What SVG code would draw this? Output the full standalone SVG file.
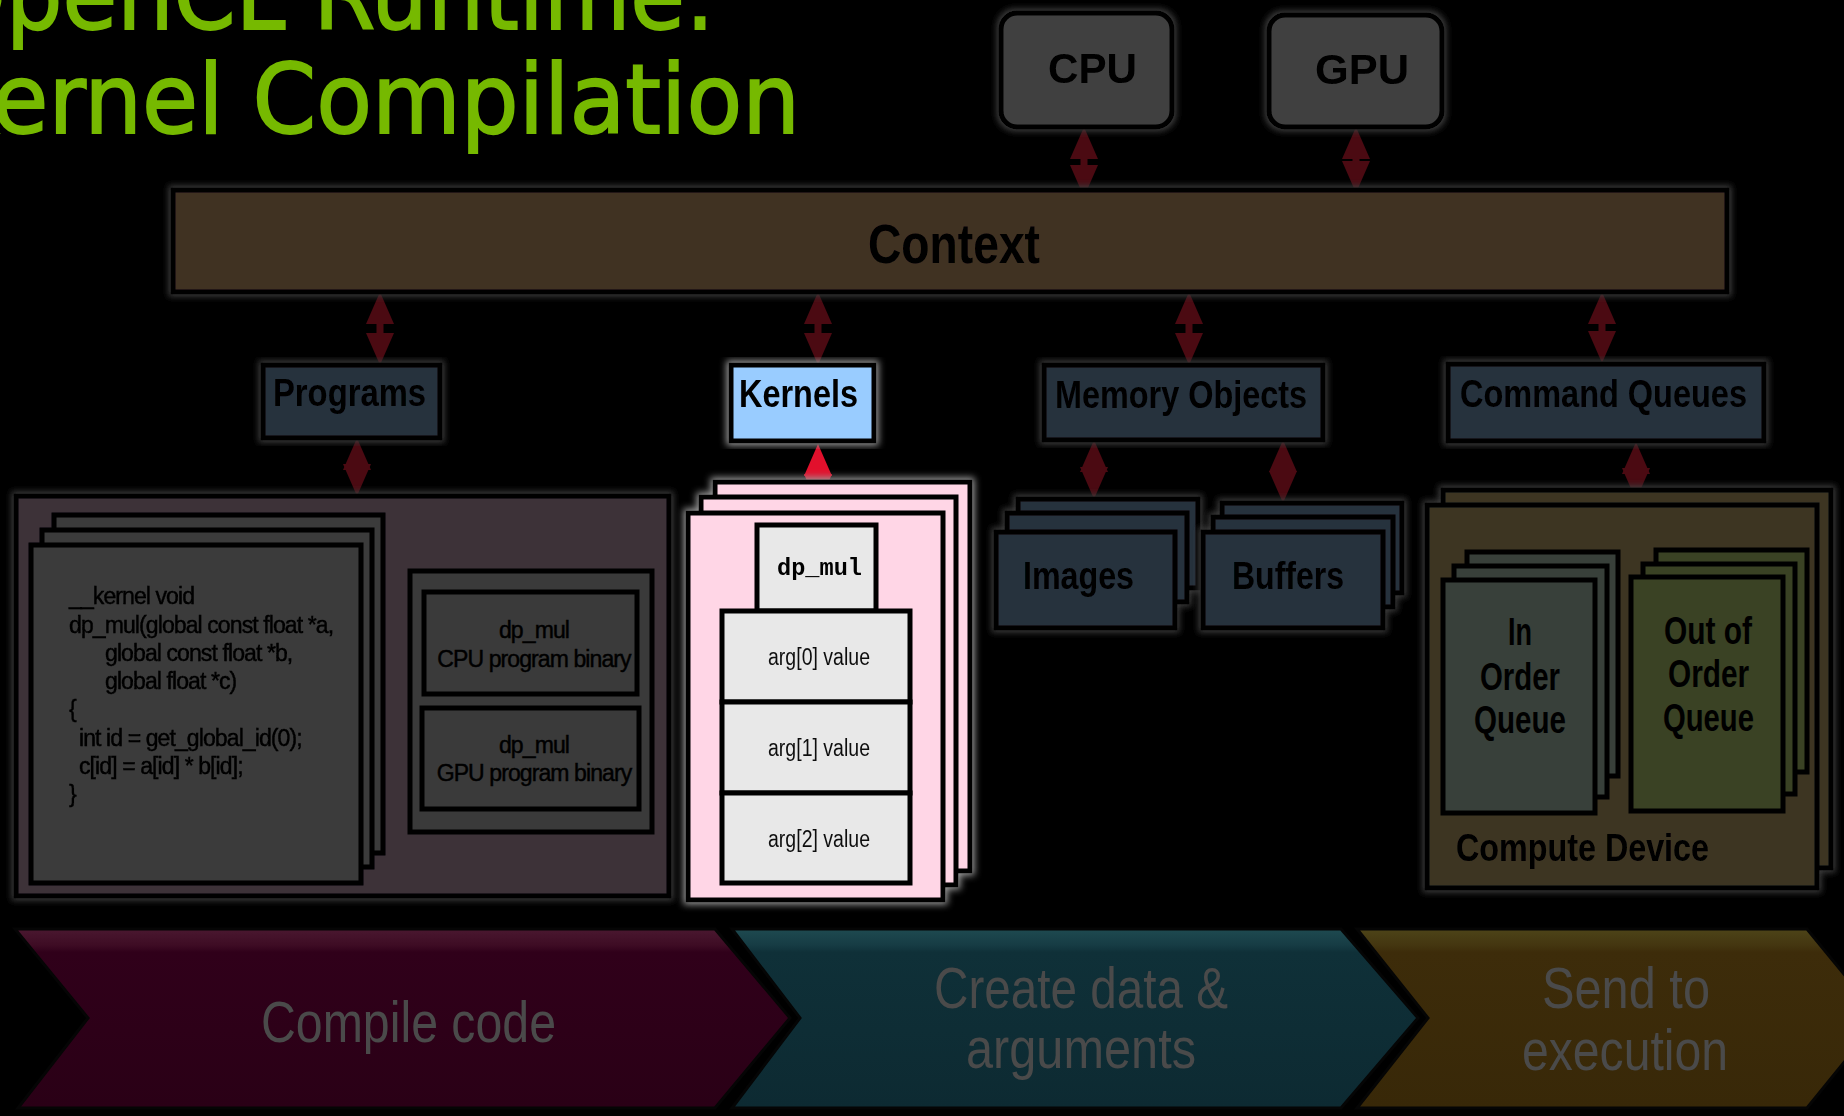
<svg xmlns="http://www.w3.org/2000/svg" width="1844" height="1116" viewBox="0 0 1844 1116">
<defs>
<style>
.box{stroke:#000;stroke-width:5}
.lbl{font-family:"Liberation Sans",Arial,sans-serif;font-weight:bold;fill:#000}
.code{font-family:"Liberation Sans",Arial,sans-serif;font-size:23px;letter-spacing:-0.9px;fill:#000;stroke:#000;stroke-width:0.45}
.arg{font-family:"Liberation Sans",Arial,sans-serif;font-size:23px;fill:#111}
.step{font-family:"Liberation Sans",Arial,sans-serif;font-size:58px;fill:#4a4a4a}
.title{font-family:"DejaVu Sans","Liberation Sans",sans-serif;font-size:96px;fill:#76b900;stroke:#76b900;stroke-width:1.8}
.conn{stroke:#4b0a12;stroke-width:7;fill:none;marker-start:url(#ah);marker-end:url(#ah)}
.connr{stroke:#e2102c;stroke-width:7;fill:none;marker-start:url(#ahr);marker-end:url(#ahr)}
</style>
<marker id="ah" markerUnits="userSpaceOnUse" viewBox="0 0 32 28" markerWidth="32" markerHeight="28" refX="8" refY="14" orient="auto-start-reverse"><path d="M0,0 L32,14 L0,28 z" fill="#4b0a12"/></marker>
<marker id="ahr" markerUnits="userSpaceOnUse" viewBox="0 0 32 28" markerWidth="32" markerHeight="28" refX="8" refY="14" orient="auto-start-reverse"><path d="M0,0 L32,14 L0,28 z" fill="#e2102c"/></marker>
<filter id="glow" x="-10%" y="-10%" width="120%" height="120%">
<feMorphology in="SourceAlpha" operator="dilate" radius="2" result="d"/>
<feGaussianBlur in="d" stdDeviation="3" result="b"/>
<feFlood flood-color="#3c3c3c"/>
<feComposite in2="b" operator="in" result="g"/>
<feMerge><feMergeNode in="g"/><feMergeNode in="SourceGraphic"/></feMerge>
</filter>
<filter id="glowl" x="-10%" y="-10%" width="120%" height="120%">
<feMorphology in="SourceAlpha" operator="dilate" radius="2" result="d"/>
<feGaussianBlur in="d" stdDeviation="3.5" result="b"/>
<feFlood flood-color="#9a9a9a"/>
<feComposite in2="b" operator="in" result="g"/>
<feMerge><feMergeNode in="g"/><feMergeNode in="SourceGraphic"/></feMerge>
</filter>
<linearGradient id="gM" x1="0" y1="0" x2="0" y2="1"><stop offset="0" stop-color="#4a1830"/><stop offset="0.09" stop-color="#3e0c24"/><stop offset="0.13" stop-color="#30001a"/><stop offset="1" stop-color="#2a0016"/></linearGradient>
<linearGradient id="gT" x1="0" y1="0" x2="0" y2="1"><stop offset="0" stop-color="#1e4a50"/><stop offset="0.09" stop-color="#163c44"/><stop offset="0.13" stop-color="#0f3038"/><stop offset="1" stop-color="#0d2a32"/></linearGradient>
<linearGradient id="gG" x1="0" y1="0" x2="0" y2="1"><stop offset="0" stop-color="#4d4418"/><stop offset="0.09" stop-color="#443610"/><stop offset="0.13" stop-color="#3d2c0a"/><stop offset="1" stop-color="#382808"/></linearGradient>
</defs>
<rect width="1844" height="1116" fill="#000"/>

<g id="title">
<text class="title" x="-64" y="29" textLength="779" lengthAdjust="spacingAndGlyphs">OpenCL Runtime:</text>
<text class="title" x="-63" y="133" textLength="863" lengthAdjust="spacingAndGlyphs">Kernel Compilation</text>
</g>

<g id="connectors">
<line class="conn" x1="1084" y1="151" x2="1084" y2="173"/>
<line class="conn" x1="1356" y1="151" x2="1356" y2="169"/>
<line class="conn" x1="380" y1="316" x2="380" y2="341"/>
<line class="conn" x1="818" y1="316" x2="818" y2="341"/>
<line class="conn" x1="1189" y1="316" x2="1189" y2="341"/>
<line class="conn" x1="1602" y1="316" x2="1602" y2="339"/>
<line class="conn" x1="357" y1="462" x2="357" y2="472"/>
<line class="connr" x1="818" y1="468" x2="818" y2="482"/>
<line class="conn" x1="1094" y1="464" x2="1094" y2="475"/>
<line class="conn" x1="1283" y1="464" x2="1283" y2="479"/>
<line class="conn" x1="1636" y1="466" x2="1636" y2="476"/>
</g>

<g id="cpu" filter="url(#glow)">
<rect class="box" x="1001" y="13" width="171" height="114" rx="16" fill="#404040"/>
<text class="lbl" x="1048" y="83" font-size="42" textLength="89" lengthAdjust="spacingAndGlyphs">CPU</text>
</g>
<g id="gpu" filter="url(#glow)">
<rect class="box" x="1269" y="15" width="173" height="112" rx="16" fill="#404040"/>
<text class="lbl" x="1315" y="84" font-size="42" textLength="94" lengthAdjust="spacingAndGlyphs">GPU</text>
</g>

<g id="context" filter="url(#glow)">
<rect class="box" x="173" y="190" width="1554" height="102" fill="#403024"/>
<text class="lbl" x="868" y="263" font-size="55" textLength="172" lengthAdjust="spacingAndGlyphs">Context</text>
</g>

<g id="programs" filter="url(#glow)">
<rect class="box" x="263" y="365" width="177" height="73" fill="#25303e"/>
<text class="lbl" x="273" y="406" font-size="38" textLength="153" lengthAdjust="spacingAndGlyphs">Programs</text>
</g>

<g id="kernels" filter="url(#glowl)">
<rect class="box" x="731" y="365" width="143" height="76" fill="#99ccff"/>
<text class="lbl" x="739" y="407" font-size="38" textLength="119" lengthAdjust="spacingAndGlyphs">Kernels</text>
</g>

<g id="memory-objects" filter="url(#glow)">
<rect class="box" x="1044" y="365" width="279" height="75" fill="#25303e"/>
<text class="lbl" x="1055" y="408" font-size="38" textLength="252" lengthAdjust="spacingAndGlyphs">Memory Objects</text>
</g>

<g id="command-queues" filter="url(#glow)">
<rect class="box" x="1448" y="364" width="316" height="77" fill="#25303e"/>
<text class="lbl" x="1460" y="407" font-size="38" textLength="287" lengthAdjust="spacingAndGlyphs">Command Queues</text>
</g>

<g id="program-source" filter="url(#glow)">
<rect class="box" x="16" y="496" width="653" height="400" fill="#3d3237"/>
<rect class="box" x="54" y="515" width="329" height="338" fill="#3a3a3a"/>
<rect class="box" x="42" y="530" width="330" height="337" fill="#3a3a3a"/>
<rect class="box" x="31" y="545" width="330" height="338" fill="#3a3a3a"/>
<text class="code" x="69" y="604">__kernel void</text>
<text class="code" x="69" y="633">dp_mul(global const float *a,</text>
<text class="code" x="105" y="661">global const float *b,</text>
<text class="code" x="105" y="689">global float *c)</text>
<text class="code" x="69" y="717">{</text>
<text class="code" x="79" y="746">int id = get_global_id(0);</text>
<text class="code" x="79" y="774">c[id] = a[id] * b[id];</text>
<text class="code" x="69" y="802">}</text>
</g>

<g id="program-binaries">
<rect class="box" x="410" y="571" width="242" height="261" fill="#3a3a3a"/>
<rect class="box" x="424" y="592" width="213" height="102" fill="#3a3a3a"/>
<text class="code" x="534" y="638" text-anchor="middle">dp_mul</text>
<text class="code" x="534" y="667" text-anchor="middle">CPU program binary</text>
<rect class="box" x="422" y="708" width="217" height="101" fill="#3a3a3a"/>
<text class="code" x="534" y="753" text-anchor="middle">dp_mul</text>
<text class="code" x="534" y="781" text-anchor="middle">GPU program binary</text>
</g>

<g id="kernel-objects" filter="url(#glowl)">
<rect class="box" x="715" y="482" width="255" height="389" fill="#ffd6e6"/>
<rect class="box" x="701" y="497" width="255" height="388" fill="#ffd6e6"/>
<rect class="box" x="688" y="513" width="255" height="387" fill="#ffd6e6"/>
<rect class="box" x="757" y="525" width="119" height="86" fill="#e8e8e8"/>
<text x="777" y="575" font-family="'Liberation Mono','Courier New',monospace" font-weight="bold" font-size="23.6" fill="#000">dp_mul</text>
<rect class="box" x="722" y="611" width="188" height="91" fill="#e8e8e8"/>
<text class="arg" x="768" y="665" textLength="102" lengthAdjust="spacingAndGlyphs">arg[0] value</text>
<rect class="box" x="722" y="702" width="188" height="91" fill="#e8e8e8"/>
<text class="arg" x="768" y="756" textLength="102" lengthAdjust="spacingAndGlyphs">arg[1] value</text>
<rect class="box" x="722" y="793" width="188" height="90" fill="#e8e8e8"/>
<text class="arg" x="768" y="847" textLength="102" lengthAdjust="spacingAndGlyphs">arg[2] value</text>
</g>

<g id="images" filter="url(#glow)">
<rect class="box" x="1018" y="499" width="180" height="89" fill="#25303e"/>
<rect class="box" x="1007" y="513" width="180" height="89" fill="#25303e"/>
<rect class="box" x="996" y="532" width="179" height="96" fill="#25303e"/>
<text class="lbl" x="1023" y="589" font-size="38" textLength="111" lengthAdjust="spacingAndGlyphs">Images</text>
</g>

<g id="buffers" filter="url(#glow)">
<rect class="box" x="1222" y="503" width="180" height="90" fill="#25303e"/>
<rect class="box" x="1213" y="517" width="180" height="90" fill="#25303e"/>
<rect class="box" x="1203" y="532" width="180" height="96" fill="#25303e"/>
<text class="lbl" x="1232" y="589" font-size="38" textLength="112" lengthAdjust="spacingAndGlyphs">Buffers</text>
</g>

<g id="compute-device" filter="url(#glow)">
<rect class="box" x="1443" y="490" width="388" height="378" fill="#3d3424"/>
<rect class="box" x="1427" y="505" width="390" height="383" fill="#3d3424"/>
<text class="lbl" x="1456" y="861" font-size="38" textLength="253" lengthAdjust="spacingAndGlyphs">Compute Device</text>
</g>

<g id="in-order-queue">
<rect class="box" x="1467" y="552" width="151" height="224" fill="#38403a"/>
<rect class="box" x="1454" y="566" width="153" height="231" fill="#38403a"/>
<rect class="box" x="1443" y="580" width="152" height="233" fill="#38403a"/>
<text class="lbl" x="1508" y="645" font-size="38" textLength="24" lengthAdjust="spacingAndGlyphs">In</text>
<text class="lbl" x="1480" y="690" font-size="38" textLength="80" lengthAdjust="spacingAndGlyphs">Order</text>
<text class="lbl" x="1474" y="733" font-size="38" textLength="92" lengthAdjust="spacingAndGlyphs">Queue</text>
</g>

<g id="out-of-order-queue">
<rect class="box" x="1656" y="550" width="151" height="222" fill="#3a4224"/>
<rect class="box" x="1643" y="564" width="152" height="230" fill="#3a4224"/>
<rect class="box" x="1631" y="577" width="152" height="234" fill="#3a4224"/>
<text class="lbl" x="1664" y="644" font-size="38" textLength="88" lengthAdjust="spacingAndGlyphs">Out of</text>
<text class="lbl" x="1668" y="687" font-size="38" textLength="81" lengthAdjust="spacingAndGlyphs">Order</text>
<text class="lbl" x="1663" y="731" font-size="38" textLength="91" lengthAdjust="spacingAndGlyphs">Queue</text>
</g>

<g id="step-compile">
<path d="M15,929 L715,929 L790,1018 L715,1108 L18,1108 L88,1018 Z" fill="url(#gM)" stroke="#050505" stroke-width="3"/>
<text class="step" x="261" y="1042" textLength="295" lengthAdjust="spacingAndGlyphs">Compile code</text>
</g>
<g id="step-create">
<path d="M732,929 L1341,929 L1418,1018 L1341,1108 L732,1108 L800,1018 Z" fill="url(#gT)" stroke="#050505" stroke-width="3"/>
<text class="step" x="934" y="1008" textLength="294" lengthAdjust="spacingAndGlyphs">Create data &amp;</text>
<text class="step" x="966" y="1068" textLength="230" lengthAdjust="spacingAndGlyphs">arguments</text>
</g>
<g id="step-send">
<path d="M1357,929 L1807,929 L1880,1018 L1807,1108 L1357,1108 L1428,1018 Z" fill="url(#gG)" stroke="#050505" stroke-width="3"/>
<text class="step" x="1542" y="1008" textLength="168" lengthAdjust="spacingAndGlyphs">Send to</text>
<text class="step" x="1522" y="1070" textLength="206" lengthAdjust="spacingAndGlyphs">execution</text>
</g>
</svg>
